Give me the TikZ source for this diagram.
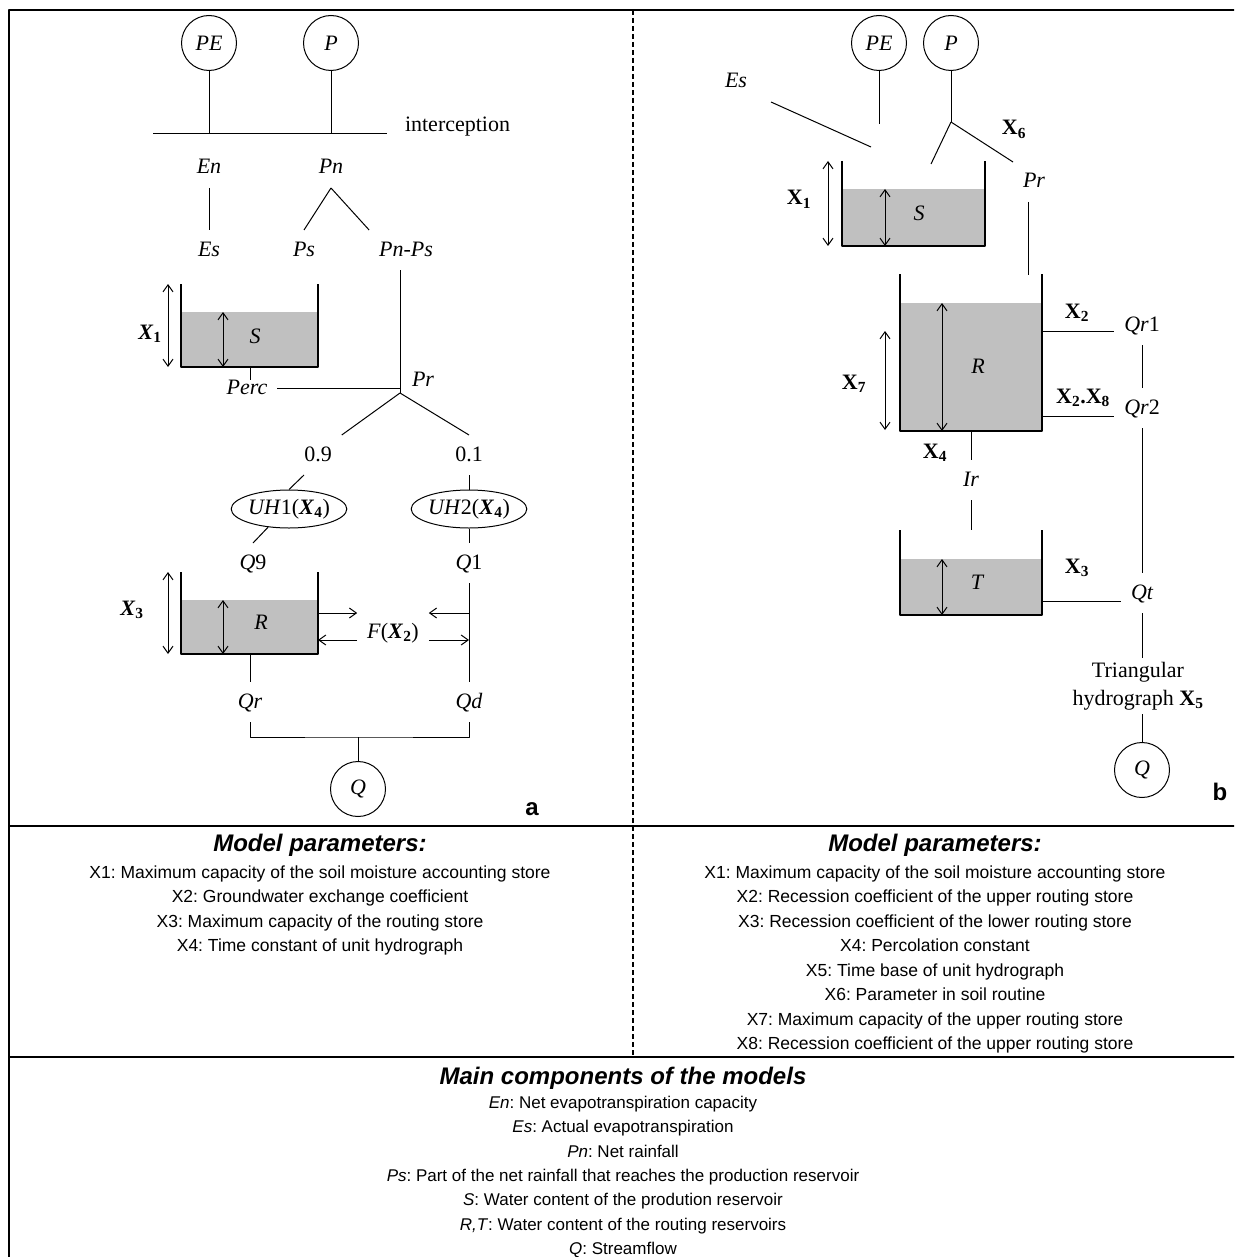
\documentclass[tikz,border=0pt]{standalone}
\usepackage{fontspec}
\setmainfont{Liberation Serif}
\setsansfont{Liberation Sans}
\usetikzlibrary{arrows.meta,shapes.geometric,calc}
\definecolor{tankgray}{RGB}{192,192,192}
\newcommand{\XA}[1]{\textbf{\textit{X}\textsubscript{#1}}}
\newcommand{\XB}[1]{\textbf{X\textsubscript{#1}}}
\frenchspacing

\begin{document}
\begin{tikzpicture}[x=1pt, y=-1pt, line width=1pt, line join=round,
    >={Straight Barb[length=7pt,width=10pt]},
    lbl/.style={font=\fontsize{22}{26}\selectfont, inner sep=0pt, outer xsep=10pt, outer ysep=10pt, text height=16pt, text depth=4pt},
    var/.style={lbl, font=\fontsize{22}{26}\selectfont\itshape},
    circ/.style={circle, draw, minimum size=55pt, inner sep=0pt, font=\fontsize{22}{26}\selectfont\itshape},
    uh/.style={ellipse, draw, minimum width=110pt, minimum height=38pt, inner sep=0pt, font=\fontsize{22}{26}\selectfont},
    hyd/.style={font=\fontsize{22}{28}\selectfont, align=center, inner sep=0pt, outer ysep=4pt},
    wall/.style={line width=1.5pt},
    water/.style={fill=tankgray},
    panelline/.style={line width=2.5pt},
    divider/.style={line width=1.5pt, dash pattern=on 5pt off 3pt},
    ptitle/.style={font=\sffamily\bfseries\itshape\fontsize{24}{28}\selectfont, inner sep=0pt},
    plist/.style={font=\sffamily\fontsize{17.5}{20}\selectfont, inner sep=0pt, text height=12.5pt, text depth=3.5pt},
    clist/.style={plist, font=\sffamily\fontsize{17}{20}\selectfont},
    tag/.style={font=\sffamily\bfseries\fontsize{24}{28}\selectfont, inner sep=0pt}]
\path[use as bounding box, clip] (0,0) rectangle (1234,1257);

\draw[panelline] (9,1280) -- (9,10) -- (1260,10);
\draw[panelline] (9,826) -- (1260,826);
\draw[panelline] (9,1057) -- (1260,1057);
\draw[divider] (633,10) -- (633,1057);

% model a
\node[circ] (PEa) at (209,43) {PE};
\node[circ] (Pa) at (331,43) {P};
\coordinate (inl) at (153,134);
\coordinate (inr) at (387,134);
\draw (inl) -- (inr);
\draw (PEa) -- (PEa |- inl);
\draw (Pa) -- (Pa |- inl);
\node[lbl, anchor=west, outer sep=0pt] (icpt) at (405,126) {interception};

\node[var] (En) at (209,168) {En};
\node[var] (Pn) at (331,168) {Pn};
\node[var] (Esa) at (209,250) {Es};
\node[var] (Ps) at (304,250) {Ps};
\node[var] (PnPs) at (406,250) {Pn-Ps};
\draw (En) -- (Esa);
\draw (Pn.south) -- (Ps.north);
\draw (Pn.south) -- (PnPs.north west);

\fill[water] (181,312) rectangle (318,367);
\draw[wall] (181,284) -- (181,367) -- (318,367) -- (318,284);
\draw[<->] (168,284) -- (168,367);
\draw[<->] (223,312) -- (223,367);
\node[lbl] (X1a) at (150,333) {\XA{1}};
\node[var] (Sa) at (255,337) {S};

\coordinate (Sbot) at (250,367);
\draw (Sbot) -- ++(0,13);
\node[var] (Perc) at (247,388) {Perc};
\coordinate (fork) at (400,393);
\draw (PnPs.south -| fork) -- (fork);
\draw (Perc.east) -- (Perc.east -| fork);
\node[var] (Pra) at (423,380) {Pr};

\node[lbl] (n09) at (318,455) {0.9};
\node[lbl] (n01) at (469,455) {0.1};
\draw (fork) -- (n09.north east);
\draw (fork) -- (n01.north);

\node[uh] (UH1) at (289,509) {\textit{UH}1(\XA{4})};
\node[uh] (UH2) at (469,509) {\textit{UH}2(\XA{4})};
\node[lbl] (Q9) at (253,563) {\textit{Q}9};
\node[lbl] (Q1) at (469,563) {\textit{Q}1};
\draw ($(n09.south)+(-14,0)$) -- (UH1.north);
\draw (UH1.221) -- (Q9.north);
\draw (n01) -- (UH2);
\draw (UH2) -- (Q1);

\fill[water] (181,600) rectangle (318,654);
\draw[wall] (181,572) -- (181,654) -- (318,654) -- (318,572);
\draw[<->] (168,572) -- (168,654);
\draw[<->] (223,600) -- (223,654);
\node[lbl] (X3a) at (132,609) {\XA{3}};
\node[var] (Ra) at (261,623) {R};

\node[lbl] (F) at (393,632) {\textit{F}(\XA{2})};
\coordinate (Rout) at (318,613);
\coordinate (Rin) at (318,640);
\coordinate (Dout) at (469,613);
\coordinate (Din) at (469,640);
\draw[->] (Rout) -- (Rout -| F.west);
\draw[->] (Rin -| F.west) -- (Rin);
\draw[->] (Dout) -- (Dout -| F.east);
\draw[->] (Din -| F.east) -- (Din);

\node[var] (Qr) at (250,702) {Qr};
\node[var] (Qd) at (469,702) {Qd};
\coordinate (Rbot) at (250,654);
\draw (Rbot) -- (Qr);
\draw (Q1) -- (Qd);
\node[circ] (Qa) at (358,789) {Q};
\coordinate (jqa) at (358,737);
\draw (Qr.south) |- (jqa) -| (Qd.south);
\draw (jqa) -- (Qa);
\node[tag] (taga) at (532,809) {a};

% model b
\node[circ] (PEb) at (879,43) {PE};
\node[circ] (Pb) at (951,43) {P};
\coordinate (pein) at (879,124);
\coordinate (fb) at (951,122);
\coordinate (psb) at (931,164);
\draw (PEb) -- (pein);
\draw (Pb) -- (fb);
\draw (fb) -- (psb);
\node[var] (Prb) at (1034,182) {Pr};
\draw (fb) -- (Prb.north west);
\node[lbl] (X6b) at (1014,129) {\XB{6}};
\node[var] (Esb) at (736,82) {Es};
\coordinate (esin) at (871,147);
\draw ($(Esb.south east)+(14,0)$) -- (esin);

\fill[water] (842,189) rectangle (985,246);
\draw[wall] (842,161) -- (842,246) -- (985,246) -- (985,161);
\draw[<->] (828,161) -- (828,246);
\draw[<->] (885,189) -- (885,246);
\node[lbl] (X1b) at (799,199) {\XB{1}};
\node[var] (Sb) at (919,215) {S};

\coordinate (rtin) at (1028,275);
\draw (Prb.south -| rtin) -- (rtin);
\fill[water] (900,303) rectangle (1042,431);
\draw[wall] (900,274) -- (900,431) -- (1042,431) -- (1042,274);
\draw[<->] (942,303) -- (942,431);
\draw[<->] (885,331) -- (885,430);
\node[lbl] (X7b) at (854,383) {\XB{7}};
\node[var] (Rb) at (978,367) {R};

\node[lbl] (X2b) at (1077,312) {\XB{2}};
\node[lbl] (Qr1) at (1142,325) {\textit{Qr}1};
\coordinate (rq1) at (1042,331);
\draw (rq1) -- (rq1 -| Qr1.west);
\node[lbl] (X28b) at (1083,397) {\textbf{X\textsubscript{2}.X\textsubscript{8}}};
\node[lbl] (Qr2) at (1142,408) {\textit{Qr}2};
\coordinate (rq2) at (1042,416);
\draw (rq2) -- (rq2 -| Qr2.west);
\draw (Qr1) -- (Qr2);

\node[lbl] (X4b) at (935,452) {\XB{4}};
\node[var] (Ir) at (971,480) {Ir};
\coordinate (rbotb) at (971,431);
\coordinate (ttop) at (971,530);
\draw (rbotb) -- (Ir);
\draw (Ir) -- (ttop);

\fill[water] (900,559) rectangle (1042,615);
\draw[wall] (900,530) -- (900,615) -- (1042,615) -- (1042,530);
\draw[<->] (942,559) -- (942,615);
\node[var] (Tb) at (977,583) {T};
\node[lbl] (X3b) at (1077,567) {\XB{3}};
\node[var] (Qt) at (1142,593) {Qt};
\coordinate (tq) at (1042,601);
\draw (tq) -- (tq -| Qt.west);
\draw (Qr2) -- (Qt);

\node[hyd] (hyd) at (1138,686) {Triangular\\hydrograph \XB{5}};
\node[circ] (Qb) at (1142,770) {Q};
\draw (Qt) -- (Qt |- hyd.north);
\draw (Qt |- hyd.south) -- (Qb);
\node[tag] (tagb) at (1220,792) {b};

% parameters
\node[ptitle] (parta) at (320,845) {Model parameters:};
\node[ptitle] (partb) at (935,845) {Model parameters:};
\foreach \t [count=\i] in {{X1: Maximum capacity of the soil moisture accounting store},
    {X2: Groundwater exchange coefficient},
    {X3: Maximum capacity of the routing store},
    {X4: Time constant of unit hydrograph}}
  \node[plist] (pa\i) at (320,849+24.5*\i) {\t};
\foreach \t [count=\i] in {{X1: Maximum capacity of the soil moisture accounting store},
    {X2: Recession coefficient of the upper routing store},
    {X3: Recession coefficient of the lower routing store},
    {X4: Percolation constant},
    {X5: Time base of unit hydrograph},
    {X6: Parameter in soil routine},
    {X7: Maximum capacity of the upper routing store},
    {X8: Recession coefficient of the upper routing store}}
  \node[plist] (pb\i) at (935,849+24.5*\i) {\t};

\node[ptitle] (mc) at (623,1078) {Main components of the models};
\foreach \t [count=\i] in {{\textit{En}: Net evapotranspiration capacity},
    {\textit{Es}: Actual evapotranspiration},
    {\textit{Pn}: Net rainfall},
    {\textit{Ps}: Part of the net rainfall that reaches the production reservoir},
    {\textit{S}: Water content of the prodution reservoir},
    {\textit{R,T}: Water content of the routing reservoirs},
    {\textit{Q}: Streamflow}}
  \node[clist] (mc\i) at (623,1079.7+24.3*\i) {\t};
\end{tikzpicture}
\end{document}
